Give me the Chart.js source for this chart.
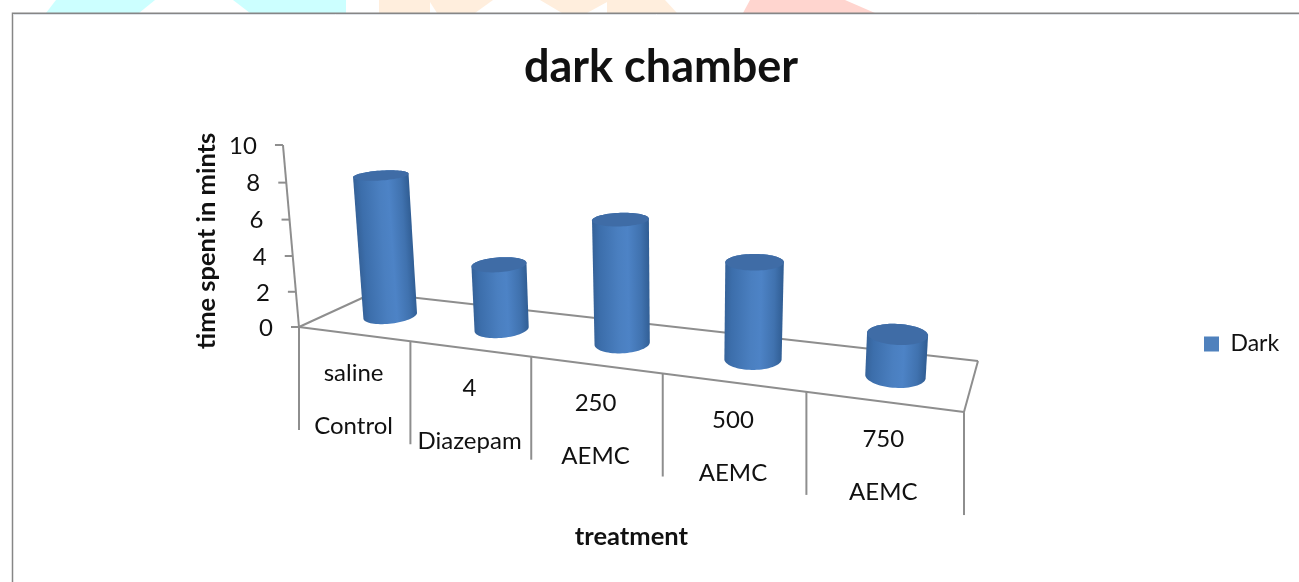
<!DOCTYPE html>
<html>
<head>
<meta charset="utf-8">
<style>html,body{margin:0;padding:0;background:#fff;overflow:hidden}canvas{display:block}</style>
<script src="https://cdn.jsdelivr.net/npm/chart.js@4"></script>
</head>
<body>
<canvas id="c" width="1299" height="582"></canvas>
<script>
const doses = ["saline", "4", "250", "500", "750"];
const treatments = ["Control", "Diazepam", "AEMC", "AEMC", "AEMC"];
const darkValues = [8.0, 3.6, 6.6, 5.0, 2.1];
const yTicks = [0, 2, 4, 6, 8, 10];
const seriesName = "Dark";
const chartTitle = "dark chamber";
const yTitle = "time spent in mints";
const xTitle = "treatment";

const FONT = "Lato, Carlito, sans-serif";
const GRID = "#8e8e8e";
const INK = "#111111";

// 3D projection of the chart box (u along categories, v floor depth, w height)
const P = {a:477, b:112.7, c:299, d:4.7, e:-3.6, f:327, g:-0.195, h:0.1037, p:-27.4, q:-187.8, k:-0.04015};
function project(u, v, w) {
  const den = P.g*u + P.h*v + P.k*w + 1;
  return [(P.a*u + P.b*v + P.c + P.p*w)/den, (P.d*u + P.e*v + P.f + P.q*w)/den];
}
function hull(pts) {
  const s = pts.slice().sort((A,B)=>A[0]-B[0]||A[1]-B[1]);
  const cr=(o,a,b)=>(a[0]-o[0])*(b[1]-o[1])-(a[1]-o[1])*(b[0]-o[0]);
  const lo=[],up=[];
  for(const p of s){while(lo.length>1&&cr(lo[lo.length-2],lo[lo.length-1],p)<=0)lo.pop();lo.push(p);}
  for(const p of s.slice().reverse()){while(up.length>1&&cr(up[up.length-2],up[up.length-1],p)<=0)up.pop();up.push(p);}
  return lo.slice(0,-1).concat(up.slice(0,-1));
}
function poly(ctx, pts){ctx.beginPath();pts.forEach((p,i)=>i?ctx.lineTo(p[0],p[1]):ctx.moveTo(p[0],p[1]));ctx.closePath();}
function seg(ctx,A,B){ctx.beginPath();ctx.moveTo(A[0],A[1]);ctx.lineTo(B[0],B[1]);ctx.stroke();}

const page = {
  id: "page",
  beforeDraw(chart) {
    const ctx = chart.ctx;
    ctx.save();
    ctx.fillStyle = "#fff"; ctx.fillRect(0,0,chart.width,chart.height);
    const shapes = [
      ["#ccffff", [[46,13],[56,0],[155,0],[139,13]]],
      ["#ccffff", [[233,0],[346,0],[346,13],[250,13]]],
      ["#ffeedd", [[379,0],[493,0],[475,13],[437,13],[430,2],[430,13],[379,13]]],
      ["#ffeedd", [[540,0],[665,0],[677,13],[607,13],[607,2],[587,13],[562,13]]],
      ["#ffd5cf", [[743,13],[750,0],[845,0],[875,13]]]
    ];
    shapes.forEach(s=>{ctx.fillStyle=s[0];poly(ctx,s[1]);ctx.fill();});
    ctx.strokeStyle="#dfe3e8";ctx.lineWidth=1;
    seg(ctx,[14,14.5],[1299,14.5]);
    ctx.strokeStyle="#868686";ctx.lineWidth=1.5;
    ctx.beginPath();ctx.moveTo(12.5,582);ctx.lineTo(12.5,13.2);ctx.lineTo(1299,13.2);ctx.stroke();
    ctx.restore();
  },
  afterLayout(chart) {
    const l = chart.legend;
    const h = l.height, w = l.width;
    l.top = 344 - h/2; l.bottom = l.top + h;
    l.left = 1204 - 10; l.right = l.left + w;
  },
  beforeDatasetsDraw(chart) {
    const ctx = chart.ctx, xs = chart.scales.x, ys = chart.scales.y, A = chart.chartArea;
    const U = px => (px - A.left)/(A.right - A.left);
    const W = px => (A.bottom - px)/(A.bottom - A.top);
    ctx.save();
    ctx.strokeStyle = GRID; ctx.lineWidth = 2; ctx.lineCap="butt";
    // floor
    seg(ctx, project(0,0,0), project(1,0,0));
    seg(ctx, project(1,0,0), project(1,1,0));
    seg(ctx, project(1,1,0), project(0,1,0));
    seg(ctx, project(0,1,0), project(0,0,0));
    // y axis
    seg(ctx, project(0,0,0), project(0,0,1));
    ctx.fillStyle = INK; ctx.textBaseline = "middle";
    ctx.font = "24px " + FONT; ctx.textAlign = "right";
    ys.ticks.forEach((t,i)=>{
      const pt = project(0,0,W(ys.getPixelForTick(i)));
      seg(ctx, [pt[0]-8,pt[1]], [pt[0],pt[1]]);
      ctx.fillText(String(t.value), pt[0]-26, pt[1]+1);
    });
    // category dividers and labels
    const n = xs.getLabels().length;
    for (let i=0;i<=n;i++){
      const pt = project(U(xs.getPixelForValue(i-0.5)),0,0);
      seg(ctx, pt, [pt[0], pt[1]+103]);
    }
    ctx.textAlign="center"; ctx.font = "24px " + FONT;
    xs.getLabels().forEach((lab,i)=>{
      const u = U(xs.getPixelForValue(i));
      const pt = project(u,0,0);
      ctx.fillText(lab[0], pt[0], pt[1]+40-3*u);
      ctx.fillText(lab[1], pt[0], pt[1]+93-3*u);
    });
    // y title
    ctx.save();
    ctx.translate(207,241); ctx.rotate(-Math.PI/2);
    ctx.font = "bold 25.5px " + FONT; ctx.fillText(yTitle,0,0);
    ctx.restore();
    // cylinders
    chart.getDatasetMeta(0).data.forEach(el=>{
      const u = U(el.x), w = W(el.y);
      const ru = 0.04, rv = 0.23;
      const ring = z => { const r=[]; for(let k=0;k<72;k++){const t=k/72*2*Math.PI;
        r.push(project(u+ru*Math.cos(t),0.5+rv*Math.sin(t),z));} return r; };
      const base = ring(0), top = ring(w);
      const b0 = project(u,0.5,0), t0 = project(u,0.5,w);
      let ax=t0[0]-b0[0], ay=t0[1]-b0[1], len=Math.hypot(ax,ay)||1;
      const nx=-ay/len, ny=ax/len;
      const sgn = nx>0?1:-1;
      const half = Math.max(...base.concat(top).map(p=>sgn*((p[0]-b0[0])*nx+(p[1]-b0[1])*ny)));
      const mx=b0[0], my=b0[1];
      const g = ctx.createLinearGradient(mx-sgn*nx*half,my-sgn*ny*half,mx+sgn*nx*half,my+sgn*ny*half);
      g.addColorStop(0,"#356299");g.addColorStop(0.12,"#3c6eab");g.addColorStop(0.45,"#4a7fc0");
      g.addColorStop(0.62,"#4d83c6");g.addColorStop(0.85,"#4072af");g.addColorStop(1,"#305d93");
      ctx.fillStyle=g; poly(ctx,hull(base.concat(top))); ctx.fill();
      ctx.fillStyle="#3f6ca6"; poly(ctx,top); ctx.fill();
    });
    ctx.restore();
    return false;
  }
};

new Chart(document.getElementById("c"), {
  type: "bar",
  data: {
    labels: doses.map((d,i)=>[d,treatments[i]]),
    datasets: [{ label: seriesName, data: darkValues, backgroundColor: "#4F81BD" }]
  },
  plugins: [page],
  options: {
    responsive: false,
    animation: false,
    devicePixelRatio: 1,
    layout: { padding: { left: 263, right: 240, top: 0, bottom: 30 } },
    plugins: {
      tooltip: { enabled: false },
      title: { display: true, text: chartTitle, color: INK,
        font: { family: FONT, size: 45, weight: "bold" }, padding: { top: 40, bottom: 51 } },
      legend: { display: true, position: "right", align: "center",
        labels: { boxWidth: 15, boxHeight: 15, color: INK, padding: 10, font: { family: FONT, size: 23 } } }
    },
    scales: {
      x: { grid: { display: false }, border: { display: false }, ticks: { display: false },
        title: { display: true, text: xTitle, color: INK, font: { family: FONT, size: 25.5, weight: "bold" }, padding: { top: 195, bottom: 0 } } },
      y: { min: 0, max: 10, grid: { display: false }, border: { display: false },
        ticks: { display: false, stepSize: 2 }, afterFit(s){ s.width = 36; },
        afterBuildTicks(s){ s.ticks = yTicks.map(v=>({value:v})); } }
    }
  }
});
</script>
</body>
</html>
